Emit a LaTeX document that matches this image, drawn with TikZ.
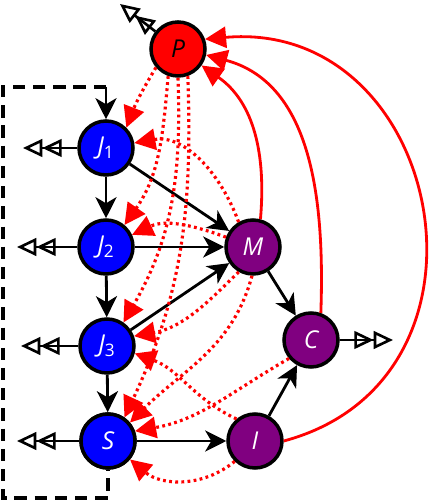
\documentclass[tikz,border=0pt]{standalone}
\usepackage{fontspec}
\newfontfamily\labelfont{Open Sans}
\usetikzlibrary{arrows.meta}
\definecolor{marketpurple}{RGB}{128,0,128}
\begin{document}
\begin{tikzpicture}[auto,
    agent/.style ={circle, draw, line width=2pt, minimum size=1.08cm, inner sep=0pt,
      text=white, font=\labelfont\itshape\fontsize{14}{16}\selectfont},
    person/.style ={agent, fill=blue},
    principal/.style ={agent, fill=red, text=black},
    market/.style ={agent, fill=marketpurple},
    link/.style ={line width=1.6pt, -{Stealth[length=12pt, width=12pt, inset=3.5pt]}},
    exitarrow/.style ={line width=1.5pt, -{Triangle[open, length=11pt, width=10pt, line width=1.5pt]Triangle[open, length=11pt, width=10pt, line width=1.5pt]}},
    payback/.style ={red, line width=1.6pt, -{Triangle[length=12pt, width=12pt]}},
    signal/.style ={red, line width=1.8pt, dash pattern=on 1.6pt off 1.9pt, -{Triangle[length=12pt, width=12pt]}}]
   \useasboundingbox (0,0) rectangle (8.62,10);

   \node[principal] (P)  at (3.56,9.02) {P};
   \node[person] (J1)  at (2.12,7.04) {J\textsubscript{\upshape 1}};
   \node[person] (J2)  at (2.12,5.06) {J\textsubscript{\upshape 2}};
   \node[person] (J3)  at (2.14,3.08) {J\textsubscript{\upshape 3}};
   \node[person] (S)  at (2.16,1.18) {S};
   \node[market] (M)  at (5.06,5.06) {M};
   \node[market] (C)  at (6.22,3.20) {C};
   \node[market] (I)  at (5.10,1.18) {I};

   % dashed frame round the left column
   \coordinate (top) at (2.12,8.26);
   \draw[line width=1.8pt, dash pattern=on 7pt off 4.5pt] (top) -- (0.06,8.26) -- (0.06,0.04) -- (2.16,0.04) -- (S);
   \node[person] at (S) {S};

   % outputs
   \coordinate (Pout) at (2.40,9.92);
   \coordinate (J1out) at (0.46,7.04);
   \coordinate (J2out) at (0.34,5.06);
   \coordinate (J3out) at (0.42,3.08);
   \coordinate (Sout) at (0.34,1.18);
   \coordinate (Cout) at (7.86,3.20);
   \draw[exitarrow] (P) to (Pout);
   \draw[exitarrow] (J1) to (J1out);
   \draw[exitarrow] (J2) to (J2out);
   \draw[exitarrow] (J3) to (J3out);
   \draw[exitarrow] (S) to (Sout);
   \draw[exitarrow] (C) to (Cout);

   % black flows
   \draw[link] (top) to (J1);
   \draw[link] (J1) to (J2);
   \draw[link] (J2) to (J3);
   \draw[link] (J3) to (S);
   \draw[link] (J1) to (M);
   \draw[link] (J2) to (M);
   \draw[link] (J3) to (M);
   \draw[link] (M) to (C);
   \draw[link] (I) to (C);
   \draw[link] (S) to (I);

   % solid red returns
   \draw[payback] (M.75) to[out=85, in=-35] (P.-35);
   \draw[payback] (C.70) to[out=88, in=-15] (P.-12);
   \draw[payback] (I.east) to[out=15, in=5, looseness=1.5] (P.20);

   % dotted red signals
   \draw[signal] (P.-140) to[bend right=5] (J1.45);
   \draw[signal] (P.-110) to[out=-95, in=55] (J2.50);
   \draw[signal] (P.-90) to[out=-88, in=60] (J3.55);
   \draw[signal] (P.-70) to[out=-88, in=65] (S.55);
   \draw[signal] (M.120) to[out=110, in=10] (J1.10);
   \draw[signal] (M.160) to[out=160, in=25] (J2.25);
   \draw[signal] (M.-120) to[out=-135, in=10] (J3.20);
   \draw[signal] (M.-92) to[out=-105, in=45] (S.40);
   \draw[signal] (C.-140) to[out=-150, in=10] (S.20);
   \draw[signal] (I.130) to[out=155, in=-20] (J3.-15);
   \draw[signal] (I.-135) to[out=-140, in=-40] (S.-40);
 \end{tikzpicture}
\end{document}
